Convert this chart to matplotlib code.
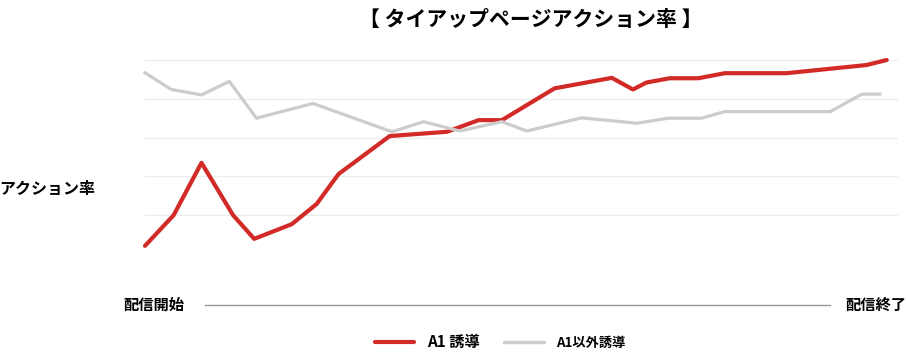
import matplotlib.pyplot as plt
from matplotlib.lines import Line2D

plt.rcParams['font.family'] = ['Noto Sans CJK JP', 'DejaVu Sans']

# 配信期間を0〜100とした位置と、アクション率（目盛なしの相対値）
red_t = [0, 3.8, 7.5, 11.7, 14.5, 19.5, 22.8, 25.7, 32.5, 40.1, 44.3, 47.4,
         54.4, 62.0, 64.8, 66.6, 69.7, 73.5, 77.0, 85.2, 95.8, 98.5]
red_v = [0.21, 1.0, 2.35, 1.0, 0.39, 0.77, 1.29, 2.06, 3.04, 3.15, 3.45, 3.45,
         4.27, 4.54, 4.24, 4.42, 4.53, 4.53, 4.66, 4.66, 4.87, 5.0]

gray_t = [0, 3.5, 7.5, 11.2, 14.8, 22.3, 32.8, 37.0, 41.8, 47.4, 50.7, 58.0,
          65.3, 69.5, 73.9, 77.0, 91.0, 95.2, 97.6]
gray_v = [4.67, 4.24, 4.1, 4.45, 3.5, 3.88, 3.15, 3.41, 3.17, 3.41, 3.17, 3.51,
          3.37, 3.5, 3.5, 3.67, 3.67, 4.12, 4.12]

title = '【 タイアップページアクション率 】'
ylabel = 'アクション率'
start_label = '配信開始'
end_label = '配信終了'
series_names = ['A1 誘導', 'A1以外誘導']

red = '#d22a27'
gray = '#cccccc'

W, H = 906, 352
fig = plt.figure(figsize=(W / 100, H / 100), dpi=100)
ax = fig.add_axes([145 / W, (H - 254) / H, (898 - 145) / W, 194 / H])

ax.plot(red_t, red_v, color=red, lw=3.0, solid_joinstyle='round',
        solid_capstyle='round', clip_on=False, zorder=3)
ax.plot(gray_t, gray_v, color=gray, lw=2.3, solid_joinstyle='round',
        clip_on=False, zorder=4)

ax.set_xlim(0, 100)
ax.set_ylim(0, 5)
ax.set_yticks(range(6))
ax.set_xticks([])
ax.tick_params(axis='y', length=0, labelleft=False)
ax.grid(axis='y', color='#ececec', lw=0.9)
for s in ax.spines.values():
    s.set_visible(False)

ax.set_ylabel(ylabel, rotation=0, fontsize=11.5, fontweight='bold',
              ha='right', va='center')
ax.yaxis.set_label_coords(-0.066, 0.335)

fig.text(531 / W, 1 - 19 / H, title, ha='center', va='center',
         fontsize=15, fontweight='bold')

# 配信開始 ― 配信終了 の軸
y_axis2 = 1 - 305 / H
fig.add_artist(Line2D([205 / W, 830 / W], [y_axis2, y_axis2],
                      color='#999999', lw=1.0))
fig.text(123 / W, y_axis2, start_label, ha='left', va='center',
         fontsize=11, fontweight='bold')
fig.text(906 / W, y_axis2, end_label, ha='right', va='center',
         fontsize=11, fontweight='bold')

handles = [Line2D([], [], color=red, lw=3.0, solid_capstyle='round'),
           Line2D([], [], color=gray, lw=2.5, solid_capstyle='round')]
leg = fig.legend(handles, series_names, loc='center',
                 bbox_to_anchor=(500 / W, 1 - 342 / H), ncol=2, frameon=False,
                 handlelength=2.6, columnspacing=1.6, handletextpad=0.8,
                 prop={'weight': 'bold', 'size': 11})
leg.get_texts()[1].set_fontsize(9.5)

fig.savefig('out.png', dpi=100)
